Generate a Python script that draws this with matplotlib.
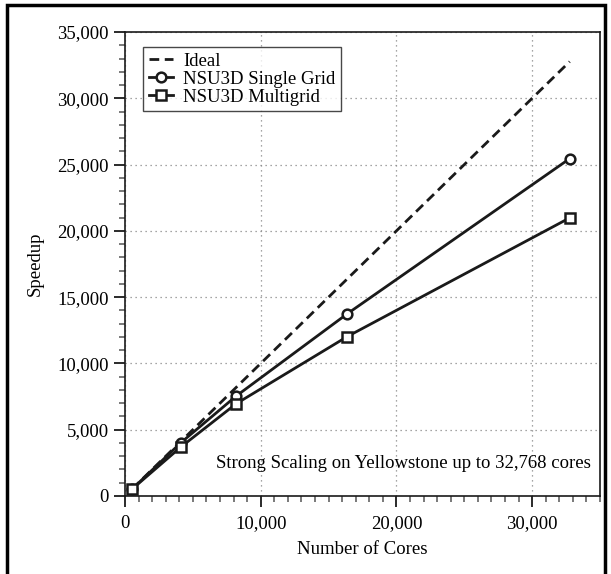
import matplotlib
matplotlib.use("Agg")
import matplotlib.pyplot as plt
from matplotlib.patches import Rectangle
from matplotlib.ticker import MultipleLocator, FuncFormatter

plt.rcParams['font.family'] = ['Liberation Serif', 'DejaVu Serif']
plt.rcParams['font.size'] = 13.5

# core counts used in the runs
cores = [512, 4096, 8192, 16384, 32768]
ideal = [512, 4096, 8192, 16384, 32768]
single_grid = [512, 4000, 7540, 13750, 25450]
multigrid = [512, 3680, 6960, 12030, 20980]

fig = plt.figure(figsize=(6.11, 5.74), dpi=100)
ax = fig.add_axes([125 / 611, 1 - 496 / 574, 475 / 611, 464 / 574])

lw = 2.0
ax.plot(cores, ideal, color='#1a1a1a', lw=lw, ls=(0, (3.5, 2)), label='Ideal')
ax.plot(cores, single_grid, color='#1a1a1a', lw=lw, marker='o', ms=7,
        mfc='white', mec='#1a1a1a', mew=1.8, label='NSU3D Single Grid')
ax.plot(cores, multigrid, color='#1a1a1a', lw=lw, marker='s', ms=7,
        mfc='white', mec='#1a1a1a', mew=1.8, label='NSU3D Multigrid')

ax.set_xlim(0, 35000)
ax.set_ylim(0, 35000)
ax.xaxis.set_major_locator(MultipleLocator(10000))
ax.xaxis.set_minor_locator(MultipleLocator(1000))
ax.yaxis.set_major_locator(MultipleLocator(5000))
ax.yaxis.set_minor_locator(MultipleLocator(1000))
fmt = FuncFormatter(lambda v, p: f"{int(v):,}")
ax.xaxis.set_major_formatter(fmt)
ax.yaxis.set_major_formatter(fmt)

ax.tick_params(which='major', direction='out', length=8, width=1.3, color='#1a1a1a')
ax.tick_params(which='minor', direction='out', length=4, width=1.1, color='#555555')
ax.tick_params(axis='x', which='major', pad=6)

ax.grid(True, which='major', ls=(0, (1, 3)), color='#888888', lw=0.9)
for s in ax.spines.values():
    s.set_linewidth(1.2)
    s.set_color('#1a1a1a')

ax.set_xlabel('Number of Cores', labelpad=6)
ax.set_ylabel('Speedup', labelpad=10)

leg = ax.legend(loc='upper left', bbox_to_anchor=(0.038, 0.968), borderaxespad=0,
                frameon=True, fancybox=False, edgecolor='#1a1a1a',
                handlelength=1.3, handletextpad=0.55, labelspacing=0.05,
                borderpad=0.3)
leg.get_frame().set_linewidth(1.0)

ax.text(0.98, 0.071, 'Strong Scaling on Yellowstone up to 32,768 cores',
        transform=ax.transAxes, ha='right', va='center')

# outer frame around the whole figure, open at the bottom edge
fig.patches.append(Rectangle((7 / 611, -0.1), 598 / 611, 1.1 - 5 / 574,
                             transform=fig.transFigure, fill=False,
                             lw=2.5, edgecolor='black'))

fig.savefig('out.png', dpi=100)
